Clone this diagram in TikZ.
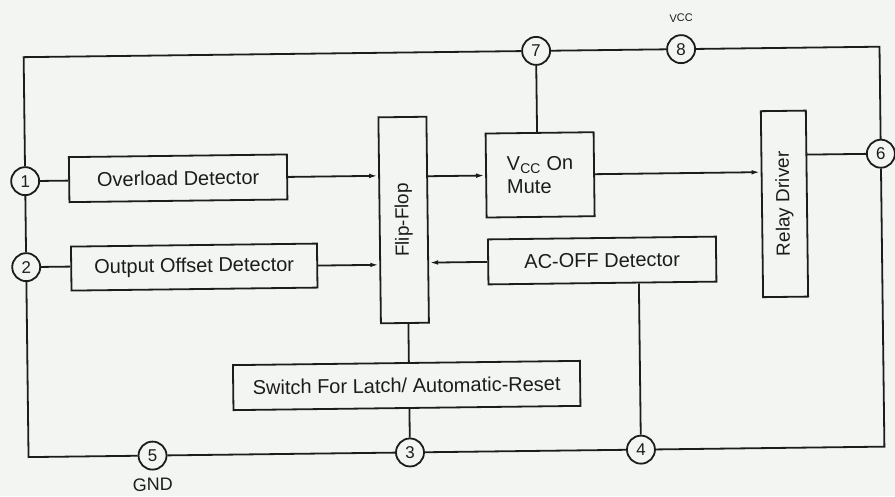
\documentclass[tikz,border=0pt]{standalone}
\usepackage{fontspec}
\setmainfont{Liberation Sans}
\usetikzlibrary{arrows.meta}
\definecolor{paper}{RGB}{242,245,241}
\definecolor{ink}{RGB}{28,28,28}
\begin{document}
\begin{tikzpicture}[x=1pt,y=-1pt,
  wire/.style={draw=ink,line width=1.8pt},
  arr/.style={wire,-{Latex[length=9pt,width=4.5pt]}},
  blk/.style={draw=ink,line width=1.8pt,inner sep=0pt,text=ink,font=\fontsize{20}{23}\selectfont},
  pin/.style={circle,draw=ink,line width=1.8pt,fill=paper,minimum size=28pt,inner sep=0pt,text=ink,font=\fontsize{17}{17}\selectfont},
  lbl/.style={inner sep=0pt,text=ink}]
\fill[paper] (0,0) rectangle (895,496);
\useasboundingbox (0,0) rectangle (895,496);
\begin{scope}[rotate around={0.7:(447,248)},transform shape]
  % blocks
  \node[blk,minimum width=218pt,minimum height=45pt] (ovl) at (179,175) {Overload Detector};
  \node[blk,minimum width=246pt,minimum height=44pt] (ood) at (194,264) {Output Offset Detector};
  \node[blk,minimum width=48pt,minimum height=206pt] (ff) at (404,219.5) {};
  \node[lbl,rotate=90,font=\fontsize{19}{19}\selectfont] (fft) at (ff.center) {Flip-Flop};
  \node[blk,minimum width=108pt,minimum height=84pt,align=left] (vcc) at (541,176) {V\textsubscript{CC} On\\Mute};
  \node[blk,minimum width=228pt,minimum height=45pt] (acoff) at (602,262.4) {AC-OFF Detector};
  \node[blk,minimum width=45pt,minimum height=186pt] (rly) at (785,208) {};
  \node[lbl,rotate=90,font=\fontsize{19}{19}\selectfont] (rlyt) at (rly.center) {Relay Driver};
  \node[blk,minimum width=347pt,minimum height=45pt] (sw) at (405,385) {Switch For Latch/ Automatic-Reset};
  % pins
  \node[pin] (p1) at (26,176) {1};
  \node[pin] (p2) at (26,262) {2};
  \node[pin] (p5) at (150,452) {5};
  \node[pin] (p3) at (407.5,452) {3};
  \node[pin] (p4) at (638.5,452) {4};
  \node[pin] (p6) at (882,159) {6};
  \node[pin] (p7) at (538.5,52) {7};
  \node[pin] (p8) at (683.5,52) {8};
  \coordinate (tl) at (26,52);
  \coordinate (tr) at (882,52);
  \coordinate (br) at (882,452);
  \coordinate (bl) at (26,452);
  % frame
  \draw[wire] (p7) -- (tl) -- (p1);
  \draw[wire] (p1) -- (p2);
  \draw[wire] (p2) -- (bl) -- (p5);
  \draw[wire] (p5) -- (p3);
  \draw[wire] (p3) -- (p4);
  \draw[wire] (p4) -- (br) -- (p6);
  \draw[wire] (p6) -- (tr) -- (p8);
  \draw[wire] (p8) -- (p7);
  % connections
  \draw[wire] (p1) -- (p1 -| ovl.west);
  \draw[wire] (p2) -- (p2 -| ood.west);
  \draw[arr] (ovl.east) -- (ovl.east -| ff.west);
  \draw[arr] (ood.east) -- (ood.east -| ff.west);
  \draw[arr] (ff.east |- vcc.west) -- (vcc.west);
  \draw[arr] (vcc.east) -- (vcc.east -| rly.west);
  \draw[arr] (acoff.west) -- (acoff.west -| ff.east);
  \draw[wire] (rly.east |- p6) -- (p6);
  \draw[wire] (p7) -- (p7 |- vcc.north);
  \draw[wire] (ff.south -| p3) -- (sw.north -| p3);
  \draw[wire] (sw.south -| p3) -- (p3);
  \draw[wire] (acoff.south -| p4) -- (p4);
  % labels
  \node[lbl,font=\fontsize{11}{11}\selectfont] (vcclbl) at (684,21) {VCC};
  \node[lbl,font=\fontsize{18}{18}\selectfont] (gnd) at (150,481) {GND};
\end{scope}
\end{tikzpicture}
\end{document}
